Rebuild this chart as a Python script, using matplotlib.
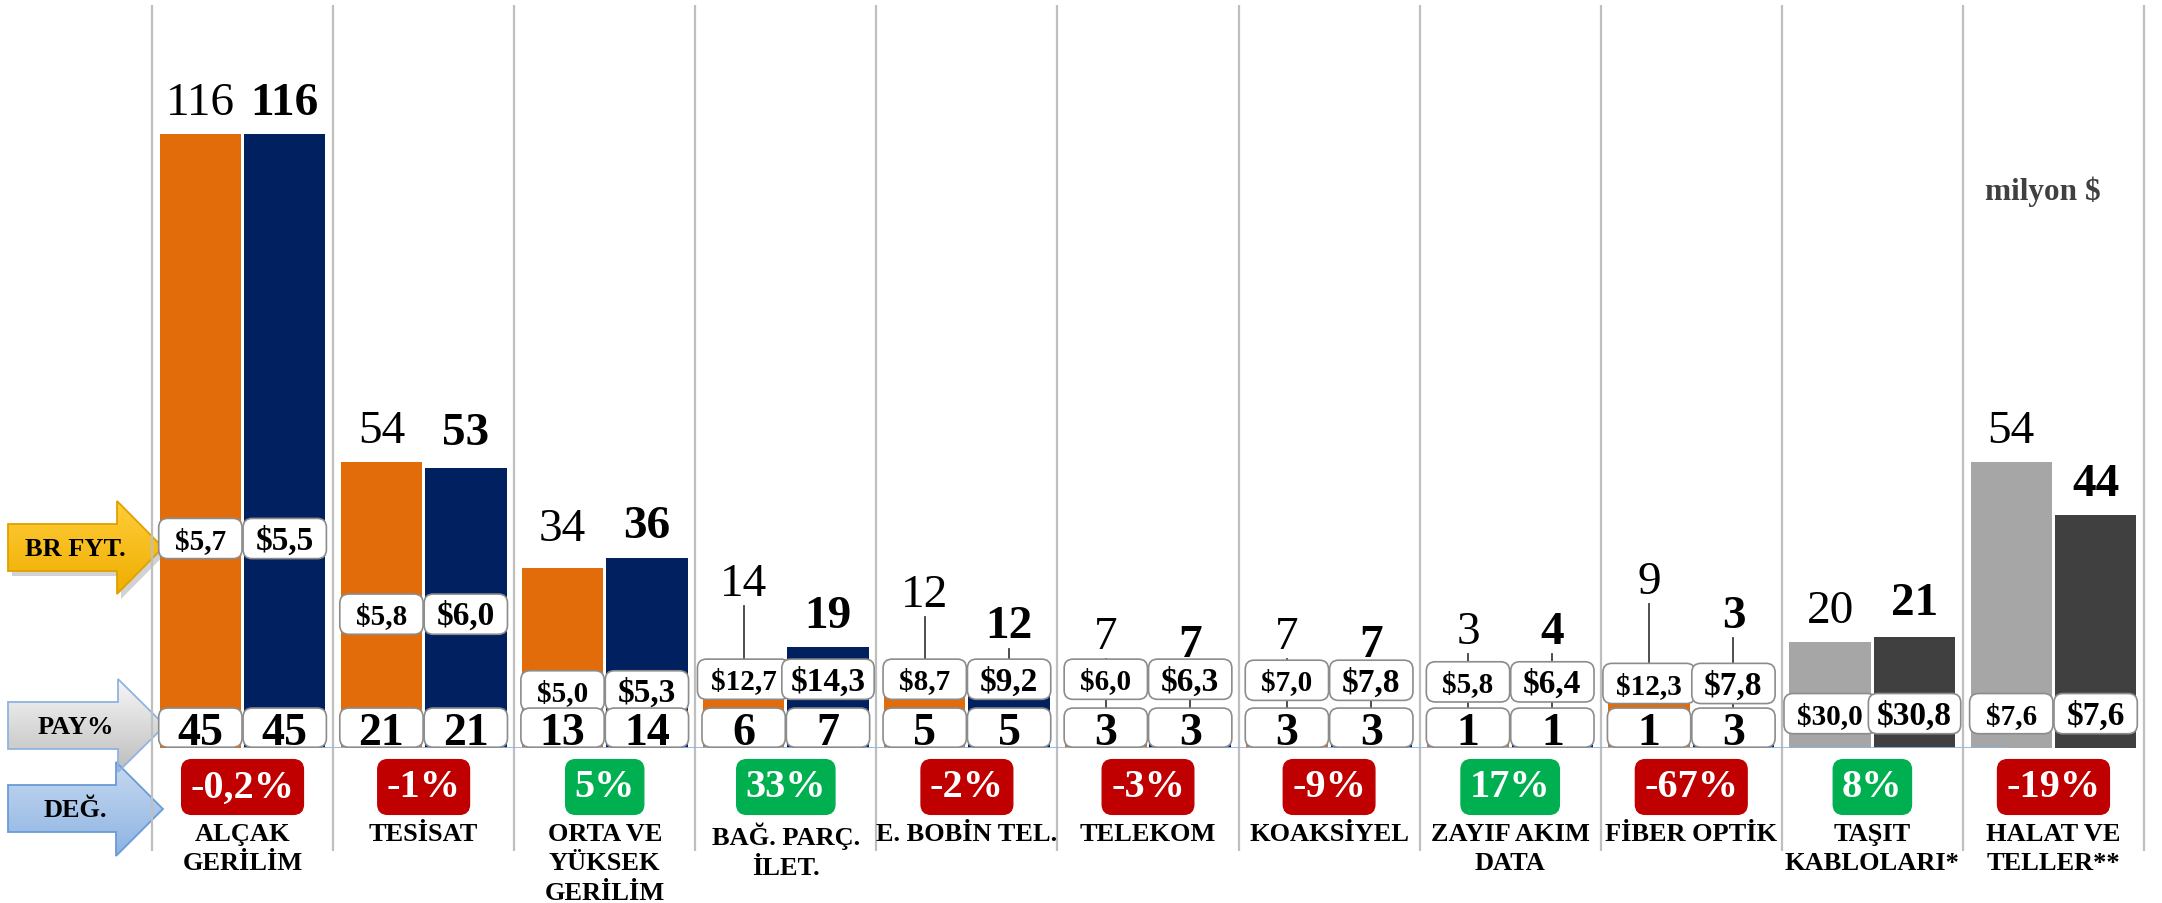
import matplotlib
matplotlib.use('Agg')  # no display

import matplotlib.pyplot as plt
import numpy as np
from matplotlib.patches import Polygon, FancyBboxPatch
from matplotlib.colors import LinearSegmentedColormap

# Chart data
categories = ["ALÇAK\nGERİLİM", "TESİSAT", "ORTA VE\nYÜKSEK\nGERİLİM", "BAĞ. PARÇ.\nİLET.",
              "E. BOBİN TEL.", "TELEKOM", "KOAKSİYEL", "ZAYIF AKIM\nDATA", "FİBER OPTİK",
              "TAŞIT\nKABLOLARI*", "HALAT VE\nTELLER**"]
prev_values = [116, 54, 34, 14, 12, 7, 7, 3, 9, 20, 54]
curr_values = [116, 53, 36, 19, 12, 7, 7, 4, 3, 21, 44]
prev_price = ["$5,7", "$5,8", "$5,0", "$12,7", "$8,7", "$6,0", "$7,0", "$5,8", "$12,3", "$30,0", "$7,6"]
curr_price = ["$5,5", "$6,0", "$5,3", "$14,3", "$9,2", "$6,3", "$7,8", "$6,4", "$7,8", "$30,8", "$7,6"]
prev_share = [45, 21, 13, 6, 5, 3, 3, 1, 1, None, None]
curr_share = [45, 21, 14, 7, 5, 3, 3, 1, 3, None, None]
change = ["-0,2%", "-1%", "5%", "33%", "-2%", "-3%", "-9%", "17%", "-67%", "8%", "-19%"]
gray_groups = [9, 10]  # categories drawn in gray

# Layout (y in data units): price boxes and lifted value labels
price_box_y = [39.6, 25.3, 10.8, 13.0, 13.0, 13.0, 12.8, 12.5, 12.2, 6.5, 6.5]
prev_label_y = [122, 60, 41.5, 31, 29, 21, 21, 22, 31.5, 26, 60]
curr_label_y = [122, 59.5, 42, 25, 23, 19.5, 19.5, 22, 25, 27.4, 50]

# Colours
ORANGE = '#E36C0A'
NAVY = '#002060'
LIGHT_GRAY = '#A6A6A6'
DARK_GRAY = '#404040'
GREEN = '#00B050'
RED = '#C00000'
SEP_GRAY = '#BFBFBF'

# Figure geometry in pixels
W, H = 2162, 904
PLOT_LEFT, PLOT_RIGHT = 152, 2144
BASE_Y, TOP_Y = 749, 6
PX_PER_UNIT = 5.29
PX_PER_CAT = (PLOT_RIGHT - PLOT_LEFT) / len(categories)
ASPECT = PX_PER_CAT / PX_PER_UNIT  # keeps box corners round in data units

plt.rcParams['font.family'] = ['Liberation Serif', 'DejaVu Serif']


def rounded_box(ax, xc, yc, w, h, z=3):
    """White rounded box with a thin gray border, sized in data units"""
    box = FancyBboxPatch((xc - w / 2, yc - h / 2), w, h,
                         boxstyle="round,pad=0,rounding_size=0.05",
                         mutation_aspect=ASPECT, fc='white', ec='#8C8C8C',
                         lw=1.2, zorder=z)
    ax.add_patch(box)


def draw_arrow(axo, x0, x1, x2, sy0, sy1, hy0, hy1, c_top, c_bot, edge, label, shadow=False):
    """Block arrow with a vertical gradient fill (pixel coordinates)"""
    ymid = (hy0 + hy1) / 2
    pts = [(x0, sy0), (x1, sy0), (x1, hy0), (x2, ymid), (x1, hy1), (x1, sy1), (x0, sy1)]
    if shadow:
        sh = Polygon([(px + 4, py + 5) for px, py in pts], closed=True,
                     fc='#7F7F7F', ec='none', alpha=0.35, zorder=1)
        axo.add_patch(sh)
    poly = Polygon(pts, closed=True, fc='none', ec=edge, lw=1.3, zorder=3)
    axo.add_patch(poly)
    cmap = LinearSegmentedColormap.from_list('grad', [c_top, c_bot])
    grad = np.linspace(0, 1, 256).reshape(-1, 1)
    im = axo.imshow(grad, cmap=cmap, extent=(x0, x2, hy1, hy0), aspect='auto', zorder=2)
    im.set_clip_path(poly)
    axo.text((x0 + x1) / 2 + 13, ymid + 1, label, ha='center', va='center',
             fontsize=19, fontweight='bold', color='black', zorder=4)


fig = plt.figure(figsize=(W / 100, H / 100), dpi=100)

# Overlay axes in pixel units for the arrows on the left
axo = fig.add_axes([0, 0, 1, 1], zorder=0)
axo.axis('off')

# Main chart axes
ax = fig.add_axes([PLOT_LEFT / W, (H - BASE_Y) / H,
                   (PLOT_RIGHT - PLOT_LEFT) / W, (BASE_Y - TOP_Y) / H], zorder=1)
ax.axis('off')
n = len(categories)
x = np.arange(n)
ax.set_xlim(-0.5, n - 0.5)
ax.set_ylim(0, (BASE_Y - TOP_Y) / PX_PER_UNIT)

prev_colors = [LIGHT_GRAY if i in gray_groups else ORANGE for i in range(n)]
curr_colors = [DARK_GRAY if i in gray_groups else NAVY for i in range(n)]

OFF = 0.233
BAR_W = 0.45
ax.bar(x - OFF, prev_values, BAR_W, color=prev_colors, zorder=1)
ax.bar(x + OFF, curr_values, BAR_W, color=curr_colors, zorder=1)

# Category separators (run down past the axis into the label area)
ax.vlines(np.arange(n + 1) - 0.5, -(852 - BASE_Y) / PX_PER_UNIT, (BASE_Y - TOP_Y) / PX_PER_UNIT,
          colors=SEP_GRAY, lw=1.6, clip_on=False, zorder=0.5)

# Thin blue baseline
ax.plot([0, 9.74], [0, 0], color='#8DB4E2', lw=2, zorder=1.2, solid_capstyle='butt')

for i in range(n):
    for sign, val, ly, price, share, bold in [
            (-1, prev_values[i], prev_label_y[i], prev_price[i], prev_share[i], False),
            (1, curr_values[i], curr_label_y[i], curr_price[i], curr_share[i], True)]:
        xc = i + sign * OFF

        # value label above the bar, with a leader line if lifted
        ax.text(xc, ly, str(val), ha='center', va='center', fontsize=34,
                fontweight='bold' if bold else 'normal', color='black', zorder=4)
        if ly - val > 9:
            ax.plot([xc, xc], [ly - 4.2, val], color='#404040', lw=1.3, zorder=2.5)

        # unit price box
        pw = 0.46 if len(price) <= 4 else 0.51
        rounded_box(ax, xc, price_box_y[i], pw, 7.6)
        ax.text(xc, price_box_y[i] - 0.3, price, ha='center', va='center',
                fontsize=24 if bold else 21, fontweight='bold', color='black', zorder=4)

        # market share box
        if share is not None:
            rounded_box(ax, xc, 3.85, 0.46, 7.4)
            ax.text(xc, 0.75, str(share), ha='center', va='baseline', fontsize=33,
                    fontweight='bold', color='black', zorder=4)

    # change badge
    badge_color = RED if change[i].startswith('-') else GREEN
    ax.text(i, -(788 - BASE_Y) / PX_PER_UNIT, change[i], ha='center', va='center',
            fontsize=29, fontweight='bold', color='white', zorder=4,
            bbox=dict(boxstyle='round,pad=0.22,rounding_size=0.25', fc=badge_color, ec=badge_color))

    # category name
    ax.text(i, -(823 - BASE_Y) / PX_PER_UNIT, categories[i], ha='center', va='top',
            fontsize=19, fontweight='bold', color='black', linespacing=1.35)

ax.text(9.94, (BASE_Y - 192) / PX_PER_UNIT, "milyon $", ha='center', va='center',
        fontsize=22.5, fontweight='bold', color='#404040')

# Row arrows on the left
draw_arrow(axo, 8, 116, 163, 786, 833, 763, 857, '#C6D9F1', '#8DB3E2', '#6A9BD6', "DEĞ.")
draw_arrow(axo, 8, 118, 165, 703, 750, 680, 773, '#F7F7F7', '#BDBDBD', '#8EB4E3', "PAY%")
draw_arrow(axo, 8, 117, 163, 525, 572, 502, 595, '#FFCD3A', '#EFAE00', '#E0A000', "BR FYT.",
           shadow=True)
axo.set_xlim(0, W)
axo.set_ylim(H, 0)

fig.savefig('out.png', dpi=100)
